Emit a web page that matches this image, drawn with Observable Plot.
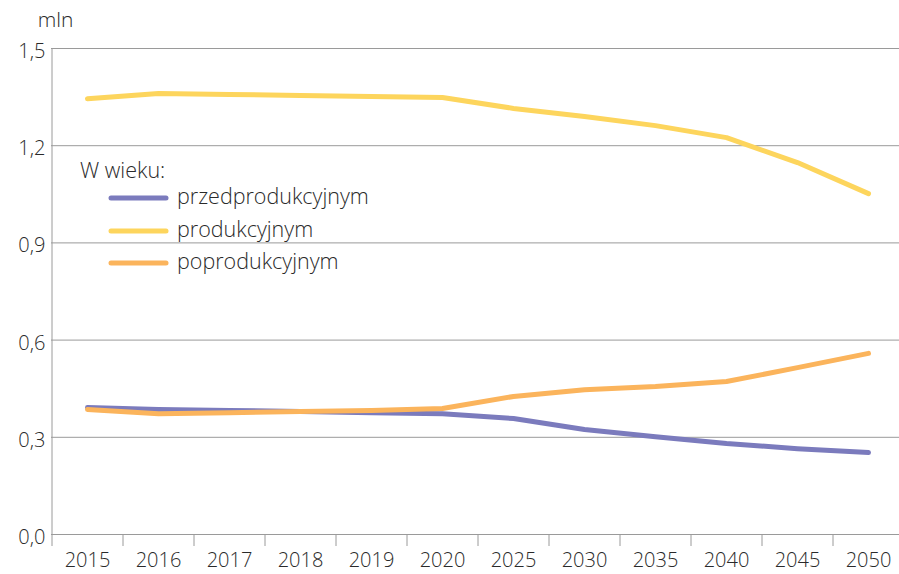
<!DOCTYPE html>
<html><head><meta charset="utf-8">
<script src="https://cdn.jsdelivr.net/npm/d3@7"></script>
<script src="https://cdn.jsdelivr.net/npm/@observablehq/plot@0.6"></script>
<style>
body{margin:0;background:#fff;}
#wrap{position:relative;width:899px;height:574px;font-family:"Open Sans",sans-serif;color:#333;}
#legend{position:absolute;left:80px;top:155px;font-size:21.5px;font-weight:300;color:#2a2a2a;}
#legend .row{position:absolute;left:28px;white-space:nowrap;height:30px;line-height:30px;}
#legend svg{vertical-align:middle;margin-right:7px;}
</style></head>
<body><div id="wrap"></div>
<script>
const years = ["2015","2016","2017","2018","2019","2020","2025","2030","2035","2040","2045","2050"];
const seriesNames = ["przedprodukcyjnym","produkcyjnym","poprodukcyjnym"];
const przed = [0.392,0.386,0.383,0.380,0.376,0.373,0.358,0.324,0.302,0.281,0.265,0.253];
const prod  = [1.345,1.361,1.358,1.355,1.352,1.349,1.315,1.290,1.262,1.225,1.148,1.052];
const popr  = [0.386,0.373,0.376,0.380,0.383,0.389,0.426,0.447,0.457,0.472,0.515,0.559];
const colors = ["#7b7bbd","#fdd55d","#fbb45c"];
const yTicks = [0,0.3,0.6,0.9,1.2,1.5];
const legendTitle = "W wieku:";
const unitLabel = "mln";

const data = [];
[przed, prod, popr].forEach((arr, i) => arr.forEach((v, j) => data.push({series: seriesNames[i], year: years[j], value: v})));

const x0 = 51, x1 = 903;
const step = (x1 - x0) / years.length;
const fmt = d => d3.format(".1f")(d).replace(".", ",");

const chart = Plot.plot({
  width: 899, height: 574,
  marginTop: 48, marginBottom: 40, marginLeft: 51, marginRight: 0,
  style: {fontFamily: "'Open Sans', sans-serif", fontSize: "20px", fontWeight: 300, color: "#2a2a2a"},
  x: {type: "point", domain: years, padding: 0.5, range: [x0, x1]},
  y: {domain: [0, 1.5]},
  color: {domain: seriesNames, range: colors},
  marks: [
    Plot.ruleY(yTicks, {stroke: "#9a9a9a", strokeWidth: 1}),
    Plot.ruleX([years[0]], {y1: 0, y2: 1.5, dx: -step/2, stroke: "#9a9a9a", strokeWidth: 1}),
    Plot.axisX({tickSize: 12, tickFormat: null, dx: -step/2, stroke: "#9a9a9a", label: null}),
    Plot.axisX({tickSize: 0, tickPadding: 18, label: null, fill: "#2a2a2a", fontSize: 20}),
    Plot.axisY({ticks: yTicks, tickSize: 0, tickPadding: 6, tickFormat: fmt, label: null, dy: 3, fill: "#2a2a2a", fontSize: 20}),
    Plot.text([unitLabel], {x: () => years[0], y: () => 1.5, text: d => d, dx: -32, dy: -28, fill: "#2a2a2a", fontSize: 21}),
    Plot.line(data, {x: "year", y: "value", z: "series", stroke: "series", strokeWidth: 5, strokeLinecap: "round", strokeLinejoin: "round"})
  ]
});
const wrap = document.getElementById("wrap");
wrap.appendChild(chart);

const leg = document.createElement("div");
leg.id = "legend";
let html = `<div style="position:absolute;left:0;top:0;white-space:nowrap;line-height:30px;">${legendTitle}</div>`;
seriesNames.forEach((s, i) => {
  html += `<div class="row" style="top:${26 + i*32.5}px"><svg width="62" height="10"><line x1="3" y1="5" x2="58" y2="5" stroke="${colors[i]}" stroke-width="5" stroke-linecap="round"/></svg>${s}</div>`;
});
leg.innerHTML = html;
wrap.appendChild(leg);
</script></body></html>
